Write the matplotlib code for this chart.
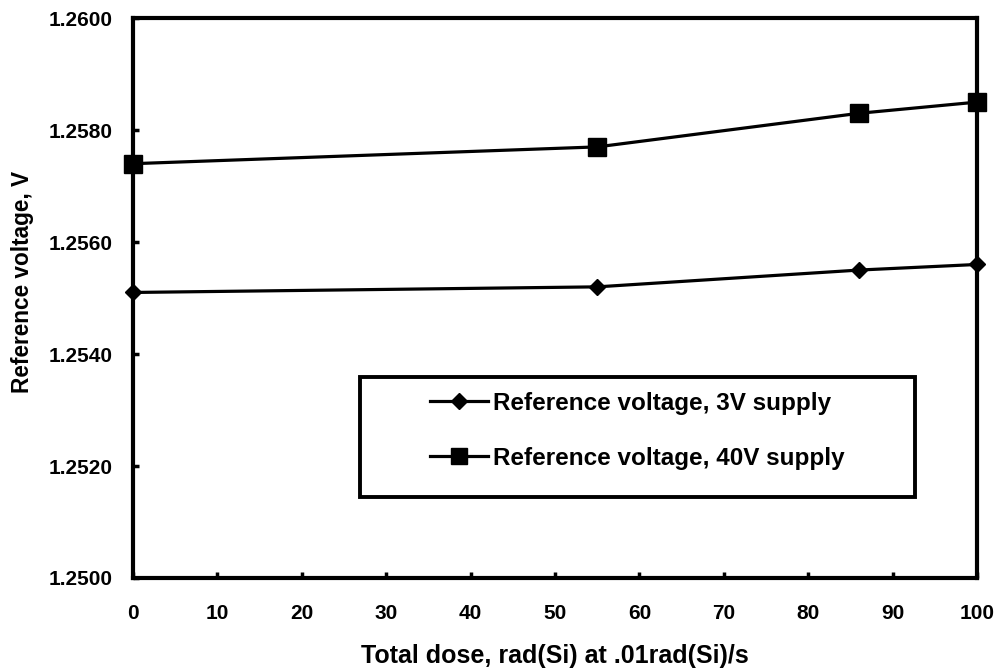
import matplotlib
matplotlib.use("Agg")
import matplotlib.pyplot as plt
from matplotlib.patches import Rectangle

plt.rcParams['font.family'] = ['Liberation Sans', 'DejaVu Sans']
plt.rcParams['font.weight'] = 'bold'

dose = [0, 55, 86, 100]
v3 = [1.2551, 1.2552, 1.2555, 1.2556]
v40 = [1.2574, 1.2577, 1.2583, 1.2585]
xticks = [0, 10, 20, 30, 40, 50, 60, 70, 80, 90, 100]
yticks = [1.2500, 1.2520, 1.2540, 1.2560, 1.2580, 1.2600]

fig = plt.figure(figsize=(9.95, 6.71), dpi=100)
ax = fig.add_axes([0.1337, 0.1386, 0.982 - 0.1337, 0.973 - 0.1386])

ax.plot(dose, v3, color='black', lw=2.3, marker='D', ms=8.5, clip_on=False, zorder=5,
        label='Reference voltage, 3V supply')
ax.plot(dose, v40, color='black', lw=2.3, marker='s', ms=13, clip_on=False, zorder=5,
        label='Reference voltage, 40V supply')

ax.set_xlim(0, 100)
ax.set_ylim(1.25, 1.26)
ax.set_xticks(xticks)
ax.set_yticks(yticks)
ax.set_xticklabels([str(t) for t in xticks])
ax.set_yticklabels([f"{t:.4f}" for t in yticks])
for s in ax.spines.values():
    s.set_linewidth(3)
ax.tick_params(direction='in', length=4, width=2.5, labelsize=15)
ax.tick_params(axis='x', pad=19)
ax.tick_params(axis='y', pad=14.5)
for lab in ax.get_xticklabels() + ax.get_yticklabels():
    lab.set_fontweight('bold')

ax.set_xlabel('Total dose, rad(Si) at .01rad(Si)/s', fontsize=18, fontweight='bold', labelpad=15)
ax.set_ylabel('Reference voltage, V', fontsize=16.3, fontweight='bold')
ax.yaxis.set_label_coords(-0.117, 0.5286)

rect = Rectangle((0.269, 0.1446), 0.658, 0.214, transform=ax.transAxes, fill=True,
                 facecolor='white', edgecolor='black', lw=2.8, zorder=6)
ax.add_patch(rect)
leg = ax.legend(loc='center left', bbox_to_anchor=(0.352, 0.263), frameon=False,
                handlelength=2.4, handletextpad=0.2, labelspacing=1.33,
                borderpad=0, borderaxespad=0, markerscale=0.9,
                prop={'weight': 'bold', 'size': 17.5})
leg.set_zorder(7)

fig.savefig('out.png', dpi=100)
